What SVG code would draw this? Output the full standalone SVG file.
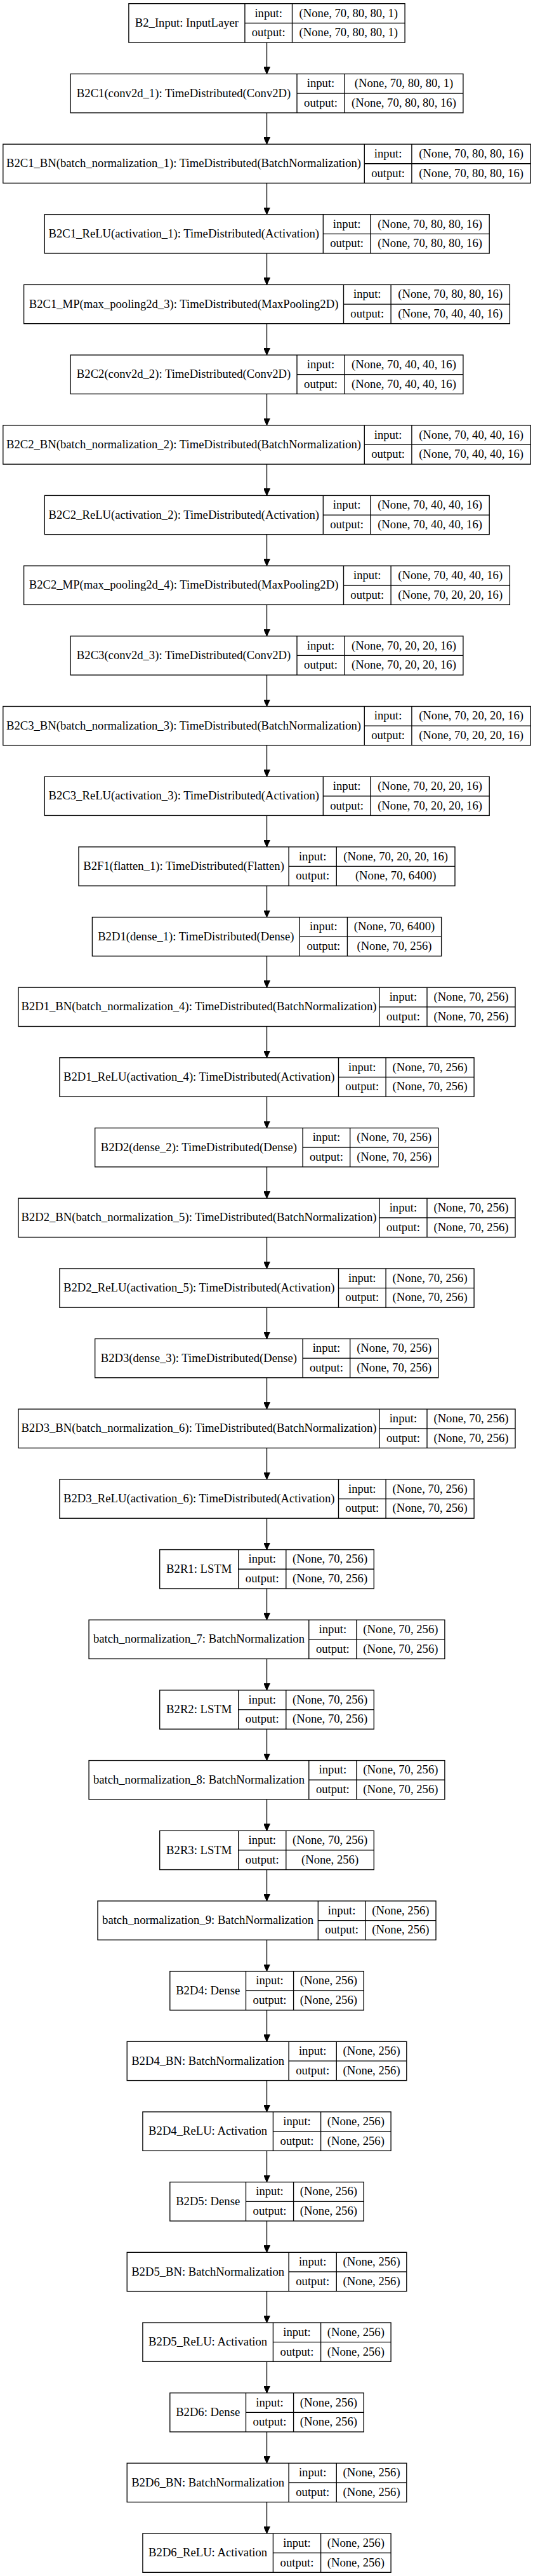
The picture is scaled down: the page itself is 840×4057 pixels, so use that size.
<svg xmlns="http://www.w3.org/2000/svg" width="840" height="4057" viewBox="0 0 840 4057">
<style>
rect{fill:none;stroke:#000;stroke-width:1.33}
g.n path{fill:none;stroke:#000;stroke-width:1.33}
text{font-family:"Liberation Serif","Times New Roman",serif;font-size:18.67px;text-anchor:middle;fill:#000}
#edges path{fill:none;stroke:#000;stroke-width:1.33;marker-end:url(#ah)}
</style>
<defs>
<marker id="ah" markerUnits="userSpaceOnUse" viewBox="0 0 11 10" refX="11" refY="5" markerWidth="11" markerHeight="10" orient="auto">
<path d="M0,0L11,5L0,10z" fill="#000" stroke="#000" stroke-width="1"/>
</marker>
</defs>
<rect x="0" y="0" width="840" height="4057" style="fill:#fff;stroke:none"/>
<g id="edges">
<path d="M420.5 67V116.4"/>
<path d="M420.5 177.7V227.1"/>
<path d="M420.5 288.4V337.7"/>
<path d="M420.5 399V448.4"/>
<path d="M420.5 509.7V559.1"/>
<path d="M420.5 620.4V669.8"/>
<path d="M420.5 731.1V780.4"/>
<path d="M420.5 841.7V891.1"/>
<path d="M420.5 952.4V1001.8"/>
<path d="M420.5 1063.1V1112.5"/>
<path d="M420.5 1173.8V1223.1"/>
<path d="M420.5 1284.4V1333.8"/>
<path d="M420.5 1395.1V1444.5"/>
<path d="M420.5 1505.8V1555.2"/>
<path d="M420.5 1616.5V1665.8"/>
<path d="M420.5 1727.1V1776.5"/>
<path d="M420.5 1837.8V1887.2"/>
<path d="M420.5 1948.5V1997.9"/>
<path d="M420.5 2059.2V2108.5"/>
<path d="M420.5 2169.8V2219.2"/>
<path d="M420.5 2280.5V2329.9"/>
<path d="M420.5 2391.2V2440.6"/>
<path d="M420.5 2501.9V2551.2"/>
<path d="M420.5 2612.5V2661.9"/>
<path d="M420.5 2723.2V2772.6"/>
<path d="M420.5 2833.9V2883.3"/>
<path d="M420.5 2944.6V2993.9"/>
<path d="M420.5 3055.2V3104.6"/>
<path d="M420.5 3165.9V3215.3"/>
<path d="M420.5 3276.6V3326"/>
<path d="M420.5 3387.3V3436.6"/>
<path d="M420.5 3497.9V3547.3"/>
<path d="M420.5 3608.6V3658"/>
<path d="M420.5 3719.3V3768.7"/>
<path d="M420.5 3830V3879.3"/>
<path d="M420.5 3940.6V3990"/>
</g>

<g class="n" id="B2_Input" transform="translate(0,5.7)"><rect x="202.9" y="0" width="435.2" height="61.3"/><path d="M385.9 0V61.3M460.5 0V61.3M385.9 30.65H638.1"/><text x="294.4" y="36.3">B2_Input: InputLayer</text><text x="423.2" y="20.9">input:</text><text x="423.2" y="51.6">output:</text><text x="549.3" y="20.9">(None, 70, 80, 80, 1)</text><text x="549.3" y="51.6">(None, 70, 80, 80, 1)</text></g>

<g class="n" id="B2C1" transform="translate(0,116.4)"><rect x="111.1" y="0" width="618.8" height="61.3"/><path d="M468 0V61.3M543.1 0V61.3M468 30.65H729.9"/><text x="289.55" y="36.3">B2C1(conv2d_1): TimeDistributed(Conv2D)</text><text x="505.55" y="20.9">input:</text><text x="505.55" y="51.6">output:</text><text x="636.5" y="20.9">(None, 70, 80, 80, 1)</text><text x="636.5" y="51.6">(None, 70, 80, 80, 16)</text></g>

<g class="n" id="B2C1_BN" transform="translate(0,227.1)"><rect x="4.8" y="0" width="831.4" height="61.3"/><path d="M574.3 0V61.3M648.9 0V61.3M574.3 30.65H836.2"/><text x="289.55" y="36.3">B2C1_BN(batch_normalization_1): TimeDistributed(BatchNormalization)</text><text x="611.6" y="20.9">input:</text><text x="611.6" y="51.6">output:</text><text x="742.55" y="20.9">(None, 70, 80, 80, 16)</text><text x="742.55" y="51.6">(None, 70, 80, 80, 16)</text></g>

<g class="n" id="B2C1_ReLU" transform="translate(0,337.7)"><rect x="70.3" y="0" width="700.9" height="61.3"/><path d="M509.3 0V61.3M583.9 0V61.3M509.3 30.65H771.2"/><text x="289.8" y="36.3">B2C1_ReLU(activation_1): TimeDistributed(Activation)</text><text x="546.6" y="20.9">input:</text><text x="546.6" y="51.6">output:</text><text x="677.55" y="20.9">(None, 70, 80, 80, 16)</text><text x="677.55" y="51.6">(None, 70, 80, 80, 16)</text></g>

<g class="n" id="B2C1_MP" transform="translate(0,448.4)"><rect x="37.6" y="0" width="765.8" height="61.3"/><path d="M541.5 0V61.3M616.1 0V61.3M541.5 30.65H803.4"/><text x="289.55" y="36.3">B2C1_MP(max_pooling2d_3): TimeDistributed(MaxPooling2D)</text><text x="578.8" y="20.9">input:</text><text x="578.8" y="51.6">output:</text><text x="709.75" y="20.9">(None, 70, 80, 80, 16)</text><text x="709.75" y="51.6">(None, 70, 40, 40, 16)</text></g>

<g class="n" id="B2C2" transform="translate(0,559.1)"><rect x="111.1" y="0" width="618.8" height="61.3"/><path d="M468 0V61.3M543.1 0V61.3M468 30.65H729.9"/><text x="289.55" y="36.3">B2C2(conv2d_2): TimeDistributed(Conv2D)</text><text x="505.55" y="20.9">input:</text><text x="505.55" y="51.6">output:</text><text x="636.5" y="20.9">(None, 70, 40, 40, 16)</text><text x="636.5" y="51.6">(None, 70, 40, 40, 16)</text></g>

<g class="n" id="B2C2_BN" transform="translate(0,669.8)"><rect x="4.8" y="0" width="831.4" height="61.3"/><path d="M574.3 0V61.3M648.9 0V61.3M574.3 30.65H836.2"/><text x="289.55" y="36.3">B2C2_BN(batch_normalization_2): TimeDistributed(BatchNormalization)</text><text x="611.6" y="20.9">input:</text><text x="611.6" y="51.6">output:</text><text x="742.55" y="20.9">(None, 70, 40, 40, 16)</text><text x="742.55" y="51.6">(None, 70, 40, 40, 16)</text></g>

<g class="n" id="B2C2_ReLU" transform="translate(0,780.4)"><rect x="70.3" y="0" width="700.9" height="61.3"/><path d="M509.3 0V61.3M583.9 0V61.3M509.3 30.65H771.2"/><text x="289.8" y="36.3">B2C2_ReLU(activation_2): TimeDistributed(Activation)</text><text x="546.6" y="20.9">input:</text><text x="546.6" y="51.6">output:</text><text x="677.55" y="20.9">(None, 70, 40, 40, 16)</text><text x="677.55" y="51.6">(None, 70, 40, 40, 16)</text></g>

<g class="n" id="B2C2_MP" transform="translate(0,891.1)"><rect x="37.6" y="0" width="765.8" height="61.3"/><path d="M541.5 0V61.3M616.1 0V61.3M541.5 30.65H803.4"/><text x="289.55" y="36.3">B2C2_MP(max_pooling2d_4): TimeDistributed(MaxPooling2D)</text><text x="578.8" y="20.9">input:</text><text x="578.8" y="51.6">output:</text><text x="709.75" y="20.9">(None, 70, 40, 40, 16)</text><text x="709.75" y="51.6">(None, 70, 20, 20, 16)</text></g>

<g class="n" id="B2C3" transform="translate(0,1001.8)"><rect x="111.1" y="0" width="618.8" height="61.3"/><path d="M468 0V61.3M543.1 0V61.3M468 30.65H729.9"/><text x="289.55" y="36.3">B2C3(conv2d_3): TimeDistributed(Conv2D)</text><text x="505.55" y="20.9">input:</text><text x="505.55" y="51.6">output:</text><text x="636.5" y="20.9">(None, 70, 20, 20, 16)</text><text x="636.5" y="51.6">(None, 70, 20, 20, 16)</text></g>

<g class="n" id="B2C3_BN" transform="translate(0,1112.5)"><rect x="4.8" y="0" width="831.4" height="61.3"/><path d="M574.3 0V61.3M648.9 0V61.3M574.3 30.65H836.2"/><text x="289.55" y="36.3">B2C3_BN(batch_normalization_3): TimeDistributed(BatchNormalization)</text><text x="611.6" y="20.9">input:</text><text x="611.6" y="51.6">output:</text><text x="742.55" y="20.9">(None, 70, 20, 20, 16)</text><text x="742.55" y="51.6">(None, 70, 20, 20, 16)</text></g>

<g class="n" id="B2C3_ReLU" transform="translate(0,1223.1)"><rect x="70.3" y="0" width="700.9" height="61.3"/><path d="M509.3 0V61.3M583.9 0V61.3M509.3 30.65H771.2"/><text x="289.8" y="36.3">B2C3_ReLU(activation_3): TimeDistributed(Activation)</text><text x="546.6" y="20.9">input:</text><text x="546.6" y="51.6">output:</text><text x="677.55" y="20.9">(None, 70, 20, 20, 16)</text><text x="677.55" y="51.6">(None, 70, 20, 20, 16)</text></g>

<g class="n" id="B2F1" transform="translate(0,1333.8)"><rect x="124" y="0" width="593" height="61.3"/><path d="M455.1 0V61.3M530.3 0V61.3M455.1 30.65H717"/><text x="289.55" y="36.3">B2F1(flatten_1): TimeDistributed(Flatten)</text><text x="492.7" y="20.9">input:</text><text x="492.7" y="51.6">output:</text><text x="623.65" y="20.9">(None, 70, 20, 20, 16)</text><text x="623.65" y="51.6">(None, 70, 6400)</text></g>

<g class="n" id="B2D1" transform="translate(0,1444.5)"><rect x="145.4" y="0" width="550.2" height="61.3"/><path d="M472.3 0V61.3M547.4 0V61.3M472.3 30.65H695.6"/><text x="308.85" y="36.3">B2D1(dense_1): TimeDistributed(Dense)</text><text x="509.85" y="20.9">input:</text><text x="509.85" y="51.6">output:</text><text x="621.5" y="20.9">(None, 70, 6400)</text><text x="621.5" y="51.6">(None, 70, 256)</text></g>

<g class="n" id="B2D1_BN" transform="translate(0,1555.2)"><rect x="29" y="0" width="783" height="61.3"/><path d="M597.9 0V61.3M673 0V61.3M597.9 30.65H812"/><text x="313.45" y="36.3">B2D1_BN(batch_normalization_4): TimeDistributed(BatchNormalization)</text><text x="635.45" y="20.9">input:</text><text x="635.45" y="51.6">output:</text><text x="742.5" y="20.9">(None, 70, 256)</text><text x="742.5" y="51.6">(None, 70, 256)</text></g>

<g class="n" id="B2D1_ReLU" transform="translate(0,1665.8)"><rect x="93.9" y="0" width="653.2" height="61.3"/><path d="M533.5 0V61.3M608.1 0V61.3M533.5 30.65H747.1"/><text x="313.7" y="36.3">B2D1_ReLU(activation_4): TimeDistributed(Activation)</text><text x="570.8" y="20.9">input:</text><text x="570.8" y="51.6">output:</text><text x="677.6" y="20.9">(None, 70, 256)</text><text x="677.6" y="51.6">(None, 70, 256)</text></g>

<g class="n" id="B2D2" transform="translate(0,1776.5)"><rect x="149.7" y="0" width="541" height="61.3"/><path d="M477.1 0V61.3M551.7 0V61.3M477.1 30.65H690.7"/><text x="313.4" y="36.3">B2D2(dense_2): TimeDistributed(Dense)</text><text x="514.4" y="20.9">input:</text><text x="514.4" y="51.6">output:</text><text x="621.2" y="20.9">(None, 70, 256)</text><text x="621.2" y="51.6">(None, 70, 256)</text></g>

<g class="n" id="B2D2_BN" transform="translate(0,1887.2)"><rect x="29" y="0" width="783" height="61.3"/><path d="M597.9 0V61.3M673 0V61.3M597.9 30.65H812"/><text x="313.45" y="36.3">B2D2_BN(batch_normalization_5): TimeDistributed(BatchNormalization)</text><text x="635.45" y="20.9">input:</text><text x="635.45" y="51.6">output:</text><text x="742.5" y="20.9">(None, 70, 256)</text><text x="742.5" y="51.6">(None, 70, 256)</text></g>

<g class="n" id="B2D2_ReLU" transform="translate(0,1997.9)"><rect x="93.9" y="0" width="653.2" height="61.3"/><path d="M533.5 0V61.3M608.1 0V61.3M533.5 30.65H747.1"/><text x="313.7" y="36.3">B2D2_ReLU(activation_5): TimeDistributed(Activation)</text><text x="570.8" y="20.9">input:</text><text x="570.8" y="51.6">output:</text><text x="677.6" y="20.9">(None, 70, 256)</text><text x="677.6" y="51.6">(None, 70, 256)</text></g>

<g class="n" id="B2D3" transform="translate(0,2108.5)"><rect x="149.7" y="0" width="541" height="61.3"/><path d="M477.1 0V61.3M551.7 0V61.3M477.1 30.65H690.7"/><text x="313.4" y="36.3">B2D3(dense_3): TimeDistributed(Dense)</text><text x="514.4" y="20.9">input:</text><text x="514.4" y="51.6">output:</text><text x="621.2" y="20.9">(None, 70, 256)</text><text x="621.2" y="51.6">(None, 70, 256)</text></g>

<g class="n" id="B2D3_BN" transform="translate(0,2219.2)"><rect x="29" y="0" width="783" height="61.3"/><path d="M597.9 0V61.3M673 0V61.3M597.9 30.65H812"/><text x="313.45" y="36.3">B2D3_BN(batch_normalization_6): TimeDistributed(BatchNormalization)</text><text x="635.45" y="20.9">input:</text><text x="635.45" y="51.6">output:</text><text x="742.5" y="20.9">(None, 70, 256)</text><text x="742.5" y="51.6">(None, 70, 256)</text></g>

<g class="n" id="B2D3_ReLU" transform="translate(0,2329.9)"><rect x="93.9" y="0" width="653.2" height="61.3"/><path d="M533.5 0V61.3M608.1 0V61.3M533.5 30.65H747.1"/><text x="313.7" y="36.3">B2D3_ReLU(activation_6): TimeDistributed(Activation)</text><text x="570.8" y="20.9">input:</text><text x="570.8" y="51.6">output:</text><text x="677.6" y="20.9">(None, 70, 256)</text><text x="677.6" y="51.6">(None, 70, 256)</text></g>

<g class="n" id="B2R1" transform="translate(0,2440.6)"><rect x="251.7" y="0" width="337.6" height="61.3"/><path d="M375.7 0V61.3M450.8 0V61.3M375.7 30.65H589.3"/><text x="313.7" y="36.3">B2R1: LSTM</text><text x="413.25" y="20.9">input:</text><text x="413.25" y="51.6">output:</text><text x="520.05" y="20.9">(None, 70, 256)</text><text x="520.05" y="51.6">(None, 70, 256)</text></g>

<g class="n" id="batch_normalization_7" transform="translate(0,2551.2)"><rect x="140.1" y="0" width="560.8" height="61.3"/><path d="M486.8 0V61.3M561.9 0V61.3M486.8 30.65H700.9"/><text x="313.45" y="36.3">batch_normalization_7: BatchNormalization</text><text x="524.35" y="20.9">input:</text><text x="524.35" y="51.6">output:</text><text x="631.4" y="20.9">(None, 70, 256)</text><text x="631.4" y="51.6">(None, 70, 256)</text></g>

<g class="n" id="B2R2" transform="translate(0,2661.9)"><rect x="251.7" y="0" width="337.6" height="61.3"/><path d="M375.7 0V61.3M450.8 0V61.3M375.7 30.65H589.3"/><text x="313.7" y="36.3">B2R2: LSTM</text><text x="413.25" y="20.9">input:</text><text x="413.25" y="51.6">output:</text><text x="520.05" y="20.9">(None, 70, 256)</text><text x="520.05" y="51.6">(None, 70, 256)</text></g>

<g class="n" id="batch_normalization_8" transform="translate(0,2772.6)"><rect x="140.1" y="0" width="560.8" height="61.3"/><path d="M486.8 0V61.3M561.9 0V61.3M486.8 30.65H700.9"/><text x="313.45" y="36.3">batch_normalization_8: BatchNormalization</text><text x="524.35" y="20.9">input:</text><text x="524.35" y="51.6">output:</text><text x="631.4" y="20.9">(None, 70, 256)</text><text x="631.4" y="51.6">(None, 70, 256)</text></g>

<g class="n" id="B2R3" transform="translate(0,2883.3)"><rect x="251.7" y="0" width="337.6" height="61.3"/><path d="M375.7 0V61.3M450.8 0V61.3M375.7 30.65H589.3"/><text x="313.7" y="36.3">B2R3: LSTM</text><text x="413.25" y="20.9">input:</text><text x="413.25" y="51.6">output:</text><text x="520.05" y="20.9">(None, 70, 256)</text><text x="520.05" y="51.6">(None, 256)</text></g>

<g class="n" id="batch_normalization_9" transform="translate(0,2993.9)"><rect x="154" y="0" width="533" height="61.3"/><path d="M501.3 0V61.3M575.9 0V61.3M501.3 30.65H687"/><text x="327.65" y="36.3">batch_normalization_9: BatchNormalization</text><text x="538.6" y="20.9">input:</text><text x="538.6" y="51.6">output:</text><text x="631.45" y="20.9">(None, 256)</text><text x="631.45" y="51.6">(None, 256)</text></g>

<g class="n" id="B2D4" transform="translate(0,3104.6)"><rect x="267.8" y="0" width="305.4" height="61.3"/><path d="M387.5 0V61.3M462.6 0V61.3M387.5 30.65H573.2"/><text x="327.65" y="36.3">B2D4: Dense</text><text x="425.05" y="20.9">input:</text><text x="425.05" y="51.6">output:</text><text x="517.9" y="20.9">(None, 256)</text><text x="517.9" y="51.6">(None, 256)</text></g>

<g class="n" id="B2D4_BN" transform="translate(0,3215.3)"><rect x="200.2" y="0" width="440.6" height="61.3"/><path d="M455.1 0V61.3M530.3 0V61.3M455.1 30.65H640.8"/><text x="327.65" y="36.3">B2D4_BN: BatchNormalization</text><text x="492.7" y="20.9">input:</text><text x="492.7" y="51.6">output:</text><text x="585.55" y="20.9">(None, 256)</text><text x="585.55" y="51.6">(None, 256)</text></g>

<g class="n" id="B2D4_ReLU" transform="translate(0,3326)"><rect x="224.9" y="0" width="391.2" height="61.3"/><path d="M430.4 0V61.3M505.6 0V61.3M430.4 30.65H616.1"/><text x="327.65" y="36.3">B2D4_ReLU: Activation</text><text x="468" y="20.9">input:</text><text x="468" y="51.6">output:</text><text x="560.85" y="20.9">(None, 256)</text><text x="560.85" y="51.6">(None, 256)</text></g>

<g class="n" id="B2D5" transform="translate(0,3436.6)"><rect x="267.8" y="0" width="305.4" height="61.3"/><path d="M387.5 0V61.3M462.6 0V61.3M387.5 30.65H573.2"/><text x="327.65" y="36.3">B2D5: Dense</text><text x="425.05" y="20.9">input:</text><text x="425.05" y="51.6">output:</text><text x="517.9" y="20.9">(None, 256)</text><text x="517.9" y="51.6">(None, 256)</text></g>

<g class="n" id="B2D5_BN" transform="translate(0,3547.3)"><rect x="200.2" y="0" width="440.6" height="61.3"/><path d="M455.1 0V61.3M530.3 0V61.3M455.1 30.65H640.8"/><text x="327.65" y="36.3">B2D5_BN: BatchNormalization</text><text x="492.7" y="20.9">input:</text><text x="492.7" y="51.6">output:</text><text x="585.55" y="20.9">(None, 256)</text><text x="585.55" y="51.6">(None, 256)</text></g>

<g class="n" id="B2D5_ReLU" transform="translate(0,3658)"><rect x="224.9" y="0" width="391.2" height="61.3"/><path d="M430.4 0V61.3M505.6 0V61.3M430.4 30.65H616.1"/><text x="327.65" y="36.3">B2D5_ReLU: Activation</text><text x="468" y="20.9">input:</text><text x="468" y="51.6">output:</text><text x="560.85" y="20.9">(None, 256)</text><text x="560.85" y="51.6">(None, 256)</text></g>

<g class="n" id="B2D6" transform="translate(0,3768.7)"><rect x="267.8" y="0" width="305.4" height="61.3"/><path d="M387.5 0V61.3M462.6 0V61.3M387.5 30.65H573.2"/><text x="327.65" y="36.3">B2D6: Dense</text><text x="425.05" y="20.9">input:</text><text x="425.05" y="51.6">output:</text><text x="517.9" y="20.9">(None, 256)</text><text x="517.9" y="51.6">(None, 256)</text></g>

<g class="n" id="B2D6_BN" transform="translate(0,3879.3)"><rect x="200.2" y="0" width="440.6" height="61.3"/><path d="M455.1 0V61.3M530.3 0V61.3M455.1 30.65H640.8"/><text x="327.65" y="36.3">B2D6_BN: BatchNormalization</text><text x="492.7" y="20.9">input:</text><text x="492.7" y="51.6">output:</text><text x="585.55" y="20.9">(None, 256)</text><text x="585.55" y="51.6">(None, 256)</text></g>

<g class="n" id="B2D6_ReLU" transform="translate(0,3990)"><rect x="224.9" y="0" width="391.2" height="61.3"/><path d="M430.4 0V61.3M505.6 0V61.3M430.4 30.65H616.1"/><text x="327.65" y="36.3">B2D6_ReLU: Activation</text><text x="468" y="20.9">input:</text><text x="468" y="51.6">output:</text><text x="560.85" y="20.9">(None, 256)</text><text x="560.85" y="51.6">(None, 256)</text></g>
</svg>
